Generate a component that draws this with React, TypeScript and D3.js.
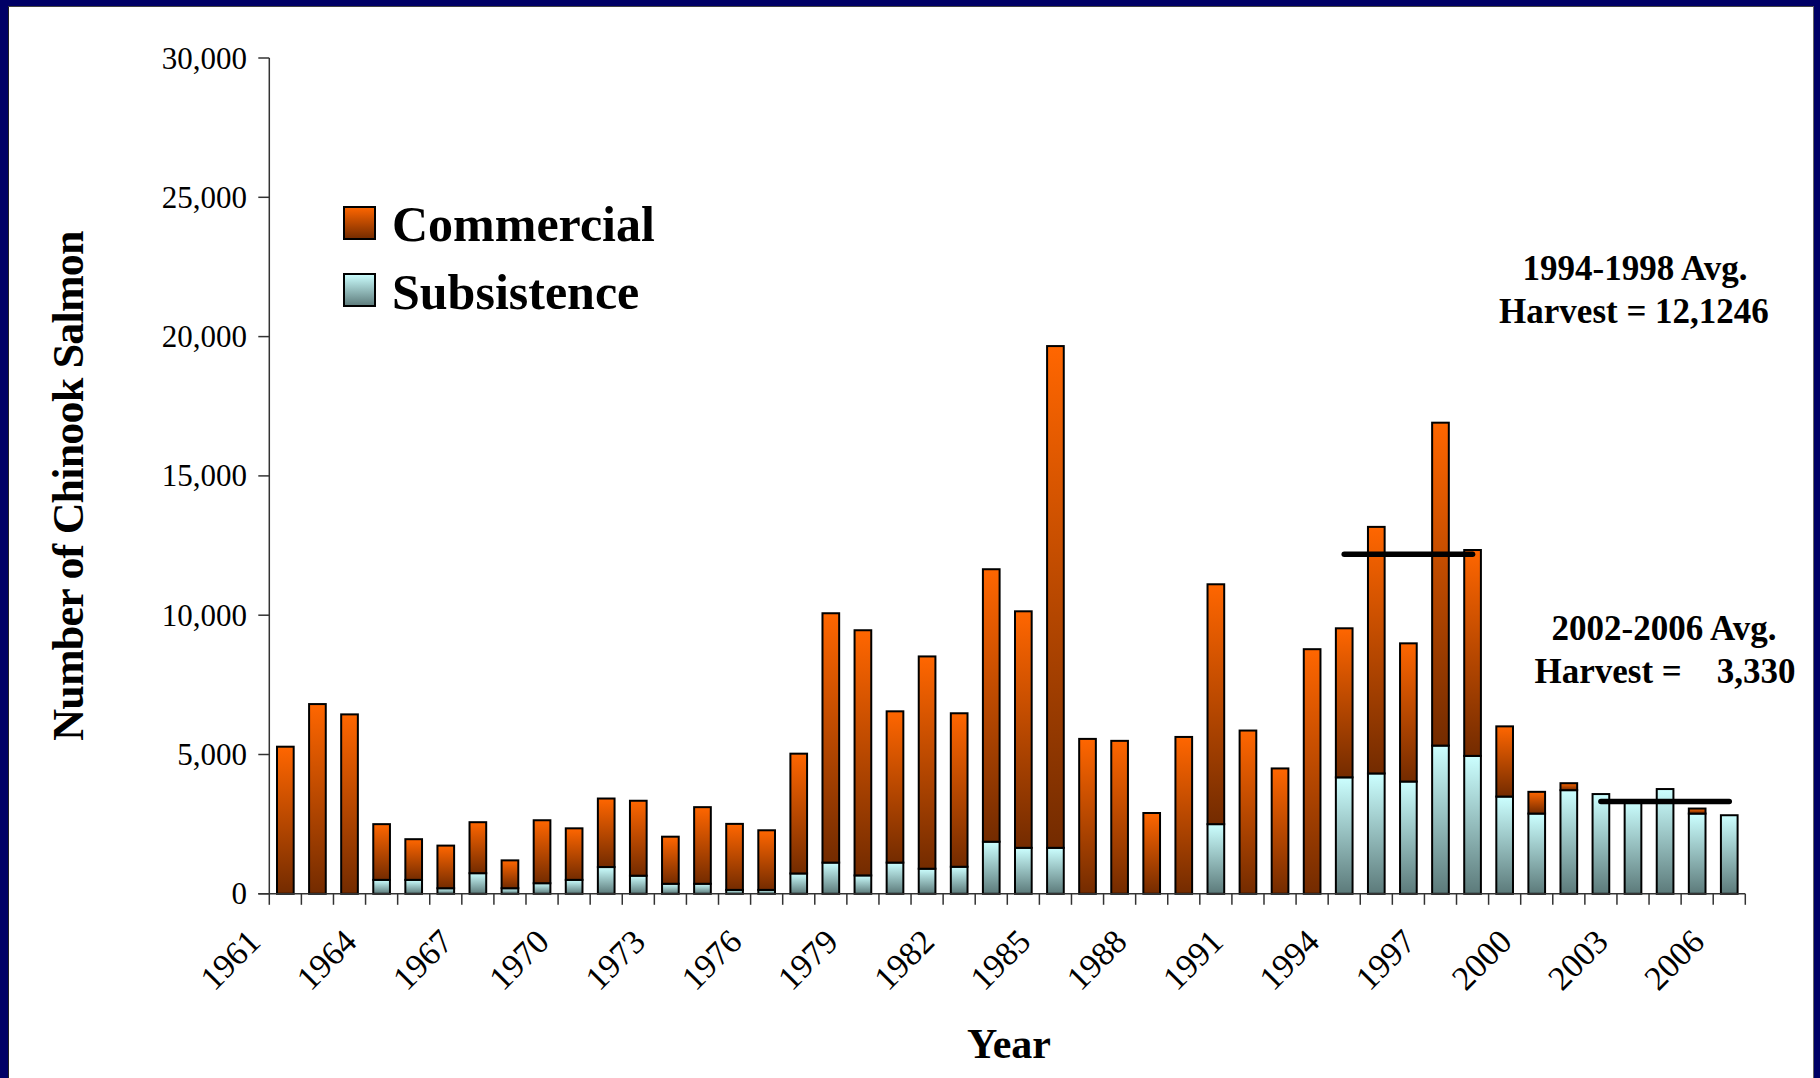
import React from 'react';
import * as d3 from 'd3';

// ---- Data ----
const years: number[] = [
  1961, 1962, 1963, 1964, 1965, 1966, 1967, 1968, 1969, 1970,
  1971, 1972, 1973, 1974, 1975, 1976, 1977, 1978, 1979, 1980,
  1981, 1982, 1983, 1984, 1985, 1986, 1987, 1988, 1989, 1990,
  1991, 1992, 1993, 1994, 1995, 1996, 1997, 1998, 1999, 2000,
  2001, 2002, 2003, 2004, 2005, 2006,
];

const subsistence: number[] = [
  0, 0, 0, 500, 500, 200, 740, 200, 380, 500,
  960, 650, 360, 360, 140, 140, 730, 1120, 660, 1120,
  900, 970, 1870, 1650, 1650, 0, 0, 0, 0, 2500,
  0, 0, 0, 4180, 4320, 4030, 5320, 4950, 3490, 2880,
  3720, 3580, 3360, 3760, 2880, 2820,
];

const commercial: number[] = [
  5280, 6810, 6440, 2000, 1460, 1530, 1830, 1000, 2260, 1850,
  2460, 2690, 1690, 2750, 2370, 2140, 4300, 8950, 8800, 5430,
  7620, 5510, 9780, 8490, 18010, 5560, 5490, 2900, 5630, 8610,
  5860, 4500, 8780, 5350, 8850, 4960, 11590, 7390, 2520, 780,
  250, 0, 0, 0, 180, 0,
];

const yTickValues: number[] = [0, 5000, 10000, 15000, 20000, 25000, 30000];
const labelEvery = 3;

const seriesKeys = ['subsistence', 'commercial'];
const seriesLabels = ['Commercial', 'Subsistence'];

const avgPeriods = [
  { from: 1994, to: 1998, line1: '1994-1998 Avg.', line2: 'Harvest = 12,1246' },
  { from: 2002, to: 2006, line1: '2002-2006 Avg.', line2: 'Harvest =    3,330' },
];

// ---- Layout ----
const W = 1820;
const H = 1078;
const plotLeft = 269.3;
const plotRight = 1745.3;
const plotBottom = 893.8;
const plotTop = 58;
const FONT = "'Liberation Serif', 'Times New Roman', Times, serif";

export default function App() {
  const table = years.map((yr, i) => ({
    year: yr,
    subsistence: subsistence[i],
    commercial: commercial[i],
  }));

  const x = d3
    .scaleBand<number>()
    .domain(years)
    .range([plotLeft, plotRight])
    .paddingInner(0.48)
    .paddingOuter(0.24);

  const y = d3.scaleLinear().domain([0, 30000]).range([plotBottom, plotTop]);

  const stack = d3.stack<any>().keys(seriesKeys);
  const stacked = stack(table);

  const bw = x.bandwidth();
  const step = x.step();
  const fmt = d3.format(',');

  const gradId: Record<string, string> = {
    commercial: 'gradCommercial',
    subsistence: 'gradSubsistence',
  };

  const totals = table.map((d) => d.subsistence + d.commercial);
  const mean = (a: number, b: number) => {
    const vals = table
      .map((d, i) => ({ yr: d.year, t: totals[i] }))
      .filter((d) => d.yr >= a && d.yr <= b)
      .map((d) => d.t);
    return d3.mean(vals) as number;
  };

  const boundaries = d3.range(years.length + 1).map((i) => plotLeft + i * step);

  return (
    <svg
      width={W}
      height={H}
      viewBox={`0 0 ${W} ${H}`}
      style={{ position: 'absolute', left: 0, top: 0, background: '#ffffff' }}
      fontFamily={FONT}
    >
      <defs>
        <linearGradient id="gradCommercial" x1="0" y1="0" x2="0" y2="1">
          <stop offset="0%" stopColor="#ff6600" />
          <stop offset="100%" stopColor="#732b00" />
        </linearGradient>
        <linearGradient id="gradSubsistence" x1="0" y1="0" x2="0" y2="1">
          <stop offset="0%" stopColor="#ccffff" />
          <stop offset="100%" stopColor="#5c7a7a" />
        </linearGradient>
      </defs>

      <rect x={0} y={0} width={W} height={H} fill="#ffffff" />

      {/* frame border */}
      <rect x={0} y={0} width={8} height={H} fill="#000066" />
      <rect x={0} y={0} width={W} height={6} fill="#000066" />
      <rect x={W - 6} y={0} width={6} height={H} fill="#000066" />
      <line x1={8.5} y1={6} x2={8.5} y2={H} stroke="#222" strokeWidth={1} />
      <line x1={8} y1={6.5} x2={W - 6} y2={6.5} stroke="#444" strokeWidth={1} />
      <line x1={W - 6.5} y1={6} x2={W - 6.5} y2={H} stroke="#666" strokeWidth={1} />

      {/* bars */}
      {stacked.map((layer) => (
        <g key={layer.key} fill={`url(#${gradId[layer.key]})`} stroke="#000" strokeWidth={2}>
          {layer.map((seg, i) => {
            const v = seg[1] - seg[0];
            if (v <= 0) return null;
            const yr = years[i];
            return (
              <rect
                key={yr}
                x={x(yr)}
                y={y(seg[1])}
                width={bw}
                height={y(seg[0]) - y(seg[1])}
              />
            );
          })}
        </g>
      ))}

      {/* y axis */}
      <line x1={plotLeft} y1={plotTop} x2={plotLeft} y2={plotBottom} stroke="#333" strokeWidth={1.5} />
      {yTickValues.map((t) => (
        <g key={t}>
          <line x1={plotLeft - 11} y1={y(t)} x2={plotLeft} y2={y(t)} stroke="#333" strokeWidth={1.5} />
          <text x={247} y={y(t) + 10.5} textAnchor="end" fontSize={31} fill="#000">
            {fmt(t)}
          </text>
        </g>
      ))}

      {/* x axis */}
      <line x1={plotLeft - 11} y1={plotBottom} x2={plotRight} y2={plotBottom} stroke="#333" strokeWidth={1.5} />
      {boundaries.map((bx, i) => (
        <line key={i} x1={bx} y1={plotBottom} x2={bx} y2={plotBottom + 11} stroke="#333" strokeWidth={1.5} />
      ))}
      {years.map((yr, i) =>
        i % labelEvery === 0 ? (
          <text
            key={yr}
            transform={`translate(${(x(yr) as number) + bw / 2 - 23},${plotBottom + 50}) rotate(-45)`}
            textAnchor="end"
            fontSize={34}
            fill="#000"
          >
            {yr}
          </text>
        ) : null
      )}

      {/* average lines */}
      {avgPeriods.map((p) => {
        const m = mean(p.from, p.to);
        return (
          <line
            key={p.from}
            x1={(x(p.from) as number) + bw / 2}
            x2={(x(p.to) as number) + bw / 2}
            y1={y(m)}
            y2={y(m)}
            stroke="#000"
            strokeWidth={5.5}
            strokeLinecap="round"
          />
        );
      })}

      {/* annotations */}
      <g fontWeight="bold" fontSize={35} textAnchor="middle" fill="#000" style={{ whiteSpace: 'pre' }}>
        <text x={1635} y={280}>{avgPeriods[0].line1}</text>
        <text x={1634} y={323}>{avgPeriods[0].line2}</text>
        <text x={1664} y={640}>{avgPeriods[1].line1}</text>
        <text x={1665} y={683} xmlSpace="preserve">{avgPeriods[1].line2}</text>
      </g>

      {/* legend */}
      <g>
        <rect x={344} y={207} width={31} height={32} fill="url(#gradCommercial)" stroke="#000" strokeWidth={2} />
        <text x={392} y={241} fontSize={50} fontWeight="bold" fill="#000">{seriesLabels[0]}</text>
        <rect x={344} y={274} width={31} height={32} fill="url(#gradSubsistence)" stroke="#000" strokeWidth={2} />
        <text x={392} y={309} fontSize={50} fontWeight="bold" fill="#000">{seriesLabels[1]}</text>
      </g>

      {/* axis titles */}
      <text
        transform={`translate(83,486) rotate(-90)`}
        textAnchor="middle"
        fontSize={44}
        fontWeight="bold"
        letterSpacing={-0.8}
        fill="#000"
      >
        Number of Chinook Salmon
      </text>
      <text x={1009} y={1058} textAnchor="middle" fontSize={42} fontWeight="bold" fill="#000">
        Year
      </text>
    </svg>
  );
}
